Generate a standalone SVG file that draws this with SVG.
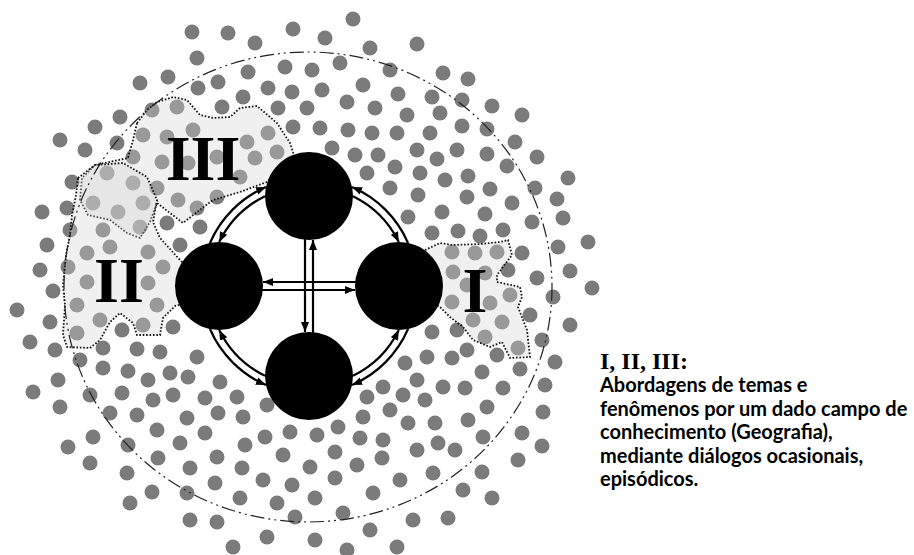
<svg xmlns="http://www.w3.org/2000/svg" width="914" height="555" viewBox="0 0 914 555">
<style>
.d{fill:#7b7b7b}
.reg{fill:rgba(210,210,210,0.34);stroke:#111;stroke-width:1.8;stroke-dasharray:1.6 1.8}
.big{fill:none;stroke:#222;stroke-width:1.2;stroke-dasharray:14 4 2 4 2 4}
.cn{fill:none;stroke:#000;stroke-width:2.2}
.node{fill:#000}
.rn{font-family:"Liberation Serif","Times New Roman",serif;font-weight:bold;font-size:64px;fill:#000;text-anchor:middle}
.lt{font-family:"Liberation Serif","Times New Roman",serif;font-weight:bold;font-size:24px;fill:#000}
.lb{font-family:Lato,"Open Sans",sans-serif;font-weight:bold;font-size:20px;fill:#000}
</style>
<defs>
<marker id="ah" viewBox="0 0 10 8" refX="10" refY="4" markerWidth="10" markerHeight="8" markerUnits="userSpaceOnUse" orient="auto"><path d="M0,0 L10,4 L0,8 z" fill="#000"/></marker>
</defs>
<rect width="914" height="555" fill="#fff"/>
<g id="dots" class="d">
<circle cx="353" cy="19" r="7.5"/><circle cx="192" cy="32" r="7.5"/><circle cx="228" cy="33" r="7.5"/><circle cx="293" cy="29" r="7.5"/><circle cx="325" cy="38" r="7.5"/>
<circle cx="255" cy="43" r="7.5"/><circle cx="370" cy="48" r="7.5"/><circle cx="417" cy="44" r="7.5"/><circle cx="197" cy="58" r="7.5"/><circle cx="340" cy="63" r="7.5"/>
<circle cx="248" cy="72" r="7.5"/><circle cx="285" cy="67" r="7.5"/><circle cx="312" cy="70" r="7.5"/><circle cx="390" cy="70" r="7.5"/>
<circle cx="140" cy="83" r="7.5"/><circle cx="168" cy="77" r="7.5"/><circle cx="218" cy="82" r="7.5"/><circle cx="363" cy="85" r="7.5"/>
<circle cx="198" cy="88" r="7.5"/><circle cx="268" cy="88" r="7.5"/><circle cx="292" cy="92" r="7.5"/><circle cx="322" cy="90" r="7.5"/><circle cx="398" cy="94" r="7.5"/>
<circle cx="243" cy="97" r="7.5"/><circle cx="347" cy="102" r="7.5"/><circle cx="375" cy="108" r="7.5"/><circle cx="407" cy="115" r="7.5"/>
<circle cx="152" cy="110" r="7.5"/><circle cx="177" cy="107" r="7.5"/><circle cx="222" cy="107" r="7.5"/><circle cx="278" cy="108" r="7.5"/><circle cx="307" cy="108" r="7.5"/>
<circle cx="120" cy="117" r="7.5"/><circle cx="95" cy="127" r="7.5"/>
<circle cx="293" cy="127" r="7.5"/><circle cx="320" cy="128" r="7.5"/><circle cx="348" cy="130" r="7.5"/><circle cx="372" cy="133" r="7.5"/><circle cx="397" cy="133" r="7.5"/>
<circle cx="193" cy="130" r="7.5"/><circle cx="167" cy="137" r="7.5"/><circle cx="143" cy="135" r="7.5"/><circle cx="247" cy="142" r="7.5"/><circle cx="268" cy="133" r="7.5"/>
<circle cx="60" cy="140" r="7.5"/><circle cx="85" cy="150" r="7.5"/><circle cx="117" cy="143" r="7.5"/>
<circle cx="133" cy="157" r="7.5"/><circle cx="162" cy="162" r="7.5"/><circle cx="188" cy="163" r="7.5"/><circle cx="217" cy="157" r="7.5"/><circle cx="255" cy="158" r="7.5"/><circle cx="277" cy="152" r="7.5"/>
<circle cx="332" cy="148" r="7.5"/><circle cx="355" cy="155" r="7.5"/><circle cx="378" cy="155" r="7.5"/><circle cx="417" cy="150" r="7.5"/>
<circle cx="367" cy="173" r="7.5"/><circle cx="395" cy="167" r="7.5"/><circle cx="420" cy="173" r="7.5"/>
<circle cx="72" cy="182" r="7.5"/><circle cx="107" cy="173" r="7.5"/><circle cx="133" cy="183" r="7.5"/><circle cx="157" cy="188" r="7.5"/><circle cx="178" cy="200" r="7.5"/><circle cx="197" cy="208" r="7.5"/><circle cx="217" cy="197" r="7.5"/><circle cx="240" cy="177" r="7.5"/>
<circle cx="390" cy="188" r="7.5"/><circle cx="418" cy="195" r="7.5"/>
<circle cx="42" cy="212" r="7.5"/><circle cx="67" cy="208" r="7.5"/><circle cx="93" cy="203" r="7.5"/><circle cx="118" cy="212" r="7.5"/><circle cx="143" cy="203" r="7.5"/><circle cx="167" cy="223" r="7.5"/><circle cx="200" cy="227" r="7.5"/>
<circle cx="408" cy="217" r="7.5"/>
<circle cx="47" cy="245" r="7.5"/><circle cx="70" cy="230" r="7.5"/><circle cx="103" cy="230" r="7.5"/><circle cx="140" cy="227" r="7.5"/><circle cx="180" cy="245" r="7.5"/>
<circle cx="40" cy="270" r="7.5"/><circle cx="68" cy="267" r="7.5"/><circle cx="87" cy="253" r="7.5"/><circle cx="110" cy="247" r="7.5"/><circle cx="148" cy="252" r="7.5"/><circle cx="163" cy="267" r="7.5"/>
<circle cx="53" cy="291" r="7.5"/><circle cx="87" cy="282" r="7.5"/><circle cx="77" cy="305" r="7.5"/><circle cx="100" cy="320" r="7.5"/><circle cx="77" cy="333" r="7.5"/>
<circle cx="17" cy="310" r="7.5"/><circle cx="50" cy="322" r="7.5"/><circle cx="30" cy="342" r="7.5"/><circle cx="55" cy="350" r="7.5"/><circle cx="80" cy="360" r="7.5"/><circle cx="103" cy="348" r="7.5"/><circle cx="122" cy="330" r="7.5"/><circle cx="137" cy="349" r="7.5"/><circle cx="160" cy="352" r="7.5"/><circle cx="197" cy="357" r="7.5"/><circle cx="173" cy="327" r="7.5"/><circle cx="148" cy="283" r="7.5"/><circle cx="157" cy="305" r="7.5"/><circle cx="143" cy="325" r="7.5"/>
<circle cx="58" cy="380" r="7.5"/><circle cx="33" cy="392" r="7.5"/><circle cx="60" cy="407" r="7.5"/><circle cx="90" cy="395" r="7.5"/><circle cx="103" cy="368" r="7.5"/><circle cx="128" cy="371" r="7.5"/><circle cx="148" cy="380" r="7.5"/><circle cx="170" cy="373" r="7.5"/><circle cx="188" cy="377" r="7.5"/><circle cx="220" cy="382" r="7.5"/><circle cx="173" cy="395" r="7.5"/><circle cx="153" cy="400" r="7.5"/><circle cx="122" cy="393" r="7.5"/>
<circle cx="110" cy="413" r="7.5"/><circle cx="137" cy="415" r="7.5"/><circle cx="187" cy="418" r="7.5"/><circle cx="205" cy="398" r="7.5"/><circle cx="237" cy="397" r="7.5"/><circle cx="267" cy="405" r="7.5"/><circle cx="218" cy="413" r="7.5"/><circle cx="243" cy="417" r="7.5"/>
<circle cx="68" cy="447" r="7.5"/><circle cx="93" cy="437" r="7.5"/><circle cx="128" cy="445" r="7.5"/><circle cx="157" cy="430" r="7.5"/><circle cx="180" cy="443" r="7.5"/><circle cx="205" cy="433" r="7.5"/><circle cx="245" cy="445" r="7.5"/><circle cx="265" cy="437" r="7.5"/><circle cx="290" cy="432" r="7.5"/><circle cx="317" cy="435" r="7.5"/><circle cx="338" cy="427" r="7.5"/><circle cx="360" cy="438" r="7.5"/><circle cx="363" cy="417" r="7.5"/><circle cx="383" cy="440" r="7.5"/><circle cx="367" cy="397" r="7.5"/><circle cx="383" cy="387" r="7.5"/><circle cx="403" cy="395" r="7.5"/><circle cx="425" cy="400" r="7.5"/><circle cx="427" cy="357" r="7.5"/><circle cx="405" cy="363" r="7.5"/><circle cx="417" cy="380" r="7.5"/><circle cx="390" cy="410" r="7.5"/><circle cx="408" cy="423" r="7.5"/>
<circle cx="90" cy="463" r="7.5"/><circle cx="127" cy="473" r="7.5"/><circle cx="158" cy="458" r="7.5"/><circle cx="190" cy="468" r="7.5"/><circle cx="217" cy="457" r="7.5"/><circle cx="242" cy="468" r="7.5"/><circle cx="263" cy="480" r="7.5"/><circle cx="283" cy="455" r="7.5"/><circle cx="310" cy="467" r="7.5"/><circle cx="335" cy="452" r="7.5"/><circle cx="357" cy="465" r="7.5"/><circle cx="382" cy="458" r="7.5"/><circle cx="417" cy="450" r="7.5"/><circle cx="400" cy="480" r="7.5"/>
<circle cx="152" cy="492" r="7.5"/><circle cx="187" cy="493" r="7.5"/><circle cx="215" cy="483" r="7.5"/><circle cx="240" cy="498" r="7.5"/><circle cx="277" cy="503" r="7.5"/><circle cx="292" cy="485" r="7.5"/><circle cx="315" cy="498" r="7.5"/><circle cx="335" cy="478" r="7.5"/><circle cx="373" cy="493" r="7.5"/><circle cx="413" cy="520" r="7.5"/>
<circle cx="130" cy="503" r="7.5"/><circle cx="190" cy="520" r="7.5"/><circle cx="217" cy="522" r="7.5"/><circle cx="233" cy="547" r="7.5"/><circle cx="267" cy="537" r="7.5"/><circle cx="295" cy="517" r="7.5"/><circle cx="315" cy="540" r="7.5"/><circle cx="343" cy="513" r="7.5"/><circle cx="347" cy="550" r="7.5"/><circle cx="370" cy="530" r="7.5"/><circle cx="397" cy="547" r="7.5"/>
<circle cx="443" cy="73" r="7.5"/><circle cx="468" cy="79" r="7.5"/><circle cx="462" cy="100" r="7.5"/><circle cx="432" cy="97" r="7.5"/><circle cx="492" cy="106" r="7.5"/><circle cx="522" cy="115" r="7.5"/><circle cx="440" cy="113" r="7.5"/><circle cx="462" cy="126" r="7.5"/><circle cx="487" cy="129" r="7.5"/><circle cx="430" cy="133" r="7.5"/><circle cx="515" cy="142" r="7.5"/><circle cx="457" cy="150" r="7.5"/><circle cx="487" cy="154" r="7.5"/><circle cx="437" cy="159" r="7.5"/><circle cx="537" cy="157" r="7.5"/><circle cx="507" cy="166" r="7.5"/><circle cx="445" cy="180" r="7.5"/><circle cx="468" cy="176" r="7.5"/><circle cx="568" cy="178" r="7.5"/><circle cx="535" cy="188" r="7.5"/><circle cx="490" cy="189" r="7.5"/><circle cx="467" cy="197" r="7.5"/><circle cx="557" cy="199" r="7.5"/><circle cx="512" cy="203" r="7.5"/><circle cx="442" cy="212" r="7.5"/><circle cx="485" cy="214" r="7.5"/><circle cx="563" cy="218" r="7.5"/><circle cx="532" cy="222" r="7.5"/><circle cx="458" cy="231" r="7.5"/><circle cx="480" cy="236" r="7.5"/><circle cx="503" cy="230" r="7.5"/><circle cx="432" cy="233" r="7.5"/><circle cx="588" cy="242" r="7.5"/><circle cx="558" cy="247" r="7.5"/><circle cx="522" cy="253" r="7.5"/><circle cx="452" cy="252" r="7.5"/><circle cx="475" cy="253" r="7.5"/><circle cx="497" cy="252" r="7.5"/><circle cx="453" cy="272" r="7.5"/><circle cx="508" cy="270" r="7.5"/><circle cx="570" cy="271" r="7.5"/><circle cx="537" cy="278" r="7.5"/>
<circle cx="485" cy="273" r="7.5"/><circle cx="592" cy="288" r="7.5"/><circle cx="553" cy="297" r="7.5"/><circle cx="510" cy="295" r="7.5"/><circle cx="490" cy="303" r="7.5"/><circle cx="452" cy="302" r="7.5"/><circle cx="467" cy="285" r="7.5"/><circle cx="530" cy="315" r="7.5"/><circle cx="502" cy="322" r="7.5"/><circle cx="473" cy="320" r="7.5"/><circle cx="570" cy="325" r="7.5"/><circle cx="457" cy="330" r="7.5"/><circle cx="432" cy="332" r="7.5"/><circle cx="542" cy="340" r="7.5"/><circle cx="485" cy="337" r="7.5"/><circle cx="518" cy="348" r="7.5"/><circle cx="497" cy="355" r="7.5"/><circle cx="467" cy="350" r="7.5"/><circle cx="452" cy="358" r="7.5"/><circle cx="555" cy="362" r="7.5"/><circle cx="520" cy="369" r="7.5"/><circle cx="482" cy="372" r="7.5"/><circle cx="443" cy="387" r="7.5"/><circle cx="465" cy="388" r="7.5"/><circle cx="503" cy="388" r="7.5"/><circle cx="545" cy="385" r="7.5"/><circle cx="487" cy="407" r="7.5"/><circle cx="543" cy="412" r="7.5"/><circle cx="435" cy="423" r="7.5"/><circle cx="468" cy="420" r="7.5"/><circle cx="522" cy="433" r="7.5"/><circle cx="483" cy="437" r="7.5"/><circle cx="438" cy="443" r="7.5"/><circle cx="455" cy="450" r="7.5"/><circle cx="542" cy="446" r="7.5"/><circle cx="518" cy="460" r="7.5"/><circle cx="433" cy="473" r="7.5"/><circle cx="482" cy="472" r="7.5"/><circle cx="463" cy="490" r="7.5"/><circle cx="492" cy="498" r="7.5"/><circle cx="448" cy="518" r="7.5"/>
</g>
<g id="region-III">
<polygon class="reg" points="137,123 147,110 157,102 173,97 187,100 200,115 213,118 230,117 240,108 257,106 277,123 290,143 294,155 300,175 267,182 240,192 213,200 197,212 183,223 170,213 157,203 150,222 140,238 127,233 110,220 88,215 80,200 82,178 95,165 128,158 133,140"/>
</g>
<g id="region-II">
<polygon class="reg" points="78,178 95,165 123,163 147,177 157,200 153,222 160,238 180,260 200,280 200,300 175,306 163,318 160,335 137,335 133,323 120,313 110,322 100,340 90,348 67,347 63,335 65,305 63,285 66,255 70,235 72,215 76,195"/>
</g>
<g id="region-I">
<polygon class="reg" points="425,250 440,243 453,245 480,244 500,242 508,240 512,255 497,275 497,282 520,287 522,297 518,307 527,330 530,357 510,358 502,342 490,347 473,340 463,327 450,317 440,307 420,295"/>
</g>
<ellipse id="boundary" class="big" cx="308" cy="287" rx="244" ry="235"/>
<g id="connectors" class="cn" marker-end="url(#ah)">
<path d="M209.95,242.94 A108,108 0 0 1 265.94,186.95"/>
<path d="M265,196.2 A100,100 0 0 0 219.2,242"/>
<path d="M408.05,242.94 A108,108 0 0 0 352.06,186.95"/>
<path d="M353,196.2 A100,100 0 0 1 398.8,242"/>
<path d="M408.05,329.06 A108,108 0 0 1 352.06,385.05"/>
<path d="M353,375.8 A100,100 0 0 0 398.8,330"/>
<path d="M209.95,329.06 A108,108 0 0 0 265.94,385.05"/>
<path d="M265,375.8 A100,100 0 0 1 219.2,330"/>
<path d="M305,238 L305,332"/>
<path d="M313,334 L313,240"/>
<path d="M357,282 L263,282"/>
<path d="M261,290 L355,290"/>
</g>
<g id="node-top"><circle class="node" cx="309" cy="196" r="44"/></g>
<g id="node-left"><circle class="node" cx="219" cy="286" r="44"/></g>
<g id="node-right"><circle class="node" cx="399" cy="286" r="44"/></g>
<g id="node-bottom"><circle class="node" cx="309" cy="376" r="44"/></g>
<g id="labels">
<text class="rn" x="203" y="180">III</text>
<text class="rn" x="119" y="302">II</text>
<text class="rn" x="475" y="312">I</text>
</g>
<g id="legend">
<text class="lt" x="600" y="369">I, II, III:</text>
<text class="lb" x="600" y="392">Abordagens de temas e</text>
<text class="lb" x="600" y="415.5">fenômenos por um dado campo de</text>
<text class="lb" x="600" y="439">conhecimento (Geografia),</text>
<text class="lb" x="600" y="462.5">mediante diálogos ocasionais,</text>
<text class="lb" x="600" y="486">episódicos.</text>
</g>
</svg>
